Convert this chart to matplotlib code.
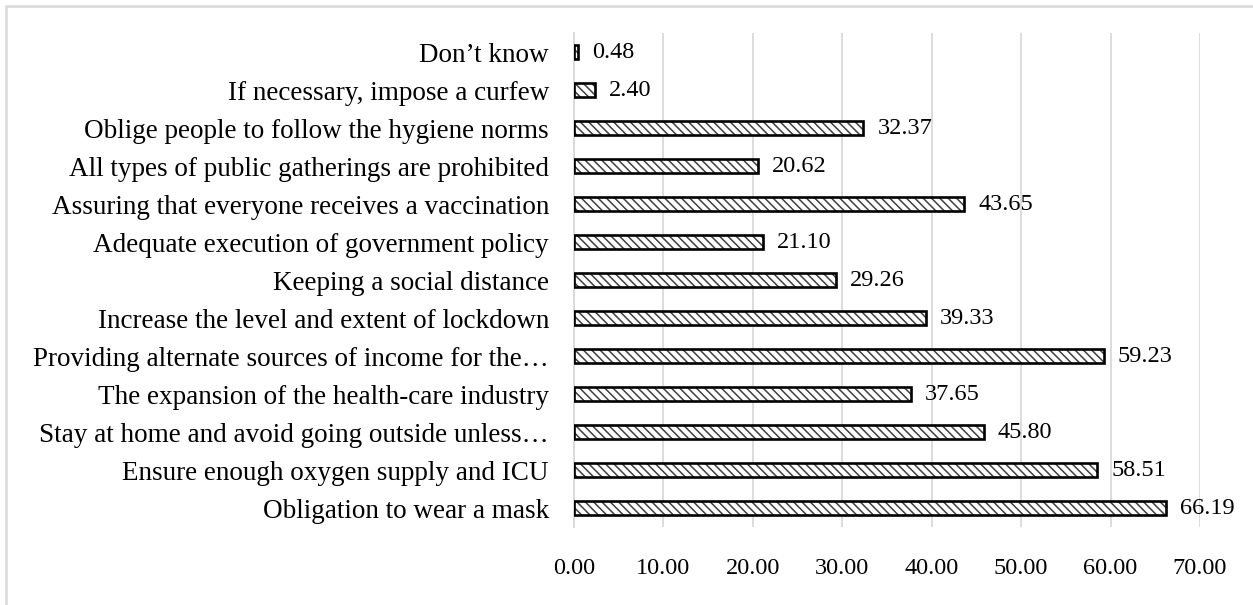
import numpy as np
import matplotlib
matplotlib.use("Agg")
import matplotlib.pyplot as plt
from matplotlib.patches import Rectangle

# ==========================================================
# DATA (top to bottom as shown)
# ==========================================================

categories = [
    "Don\u2019t know",
    "If necessary, impose a curfew",
    "Oblige people to follow the hygiene norms",
    "All types of public gatherings are prohibited",
    "Assuring that everyone receives a vaccination",
    "Adequate execution of government policy",
    "Keeping a social distance",
    "Increase the level and extent of lockdown",
    "Providing alternate sources of income for the\u2026",
    "The expansion of the health-care industry",
    "Stay at home and avoid going outside unless\u2026",
    "Ensure enough oxygen supply and ICU",
    "Obligation to wear a mask",
]

values = [0.48, 2.40, 32.37, 20.62, 43.65, 21.10, 29.26,
          39.33, 59.23, 37.65, 45.80, 58.51, 66.19]

xticks = [0, 10, 20, 30, 40, 50, 60, 70]

# ==========================================================
# FIGURE
# ==========================================================

plt.rcParams["font.family"] = ["Liberation Serif", "DejaVu Serif"]
plt.rcParams["hatch.linewidth"] = 1.1

W, H = 1253, 605
fig = plt.figure(figsize=(W / 100, H / 100), dpi=100)

left, right, top, bottom = 574, 1200, 33, 527
ax = fig.add_axes([left / W, 1 - bottom / H, (right - left) / W, (bottom - top) / H])

y = np.arange(len(categories))

# hatched fill
ax.barh(y, values, height=0.37, color="white", edgecolor="#404040",
        hatch="\\\\\\\\", linewidth=0, zorder=3)
# black outline
ax.barh(y, values, height=0.37, fill=False, edgecolor="black",
        linewidth=1.9, zorder=4)

for yi, v in zip(y, values):
    ax.annotate(f"{v:.2f}", (v, yi), xytext=(10, 0), textcoords="offset points",
                va="center", ha="left", fontsize=17.5, zorder=5)

ax.set_xlim(0, 70)
ax.set_ylim(len(categories) - 0.5, -0.5)
ax.set_xticks(xticks)
ax.set_xticklabels([f"{t:.2f}" for t in xticks], fontsize=17.5)
ax.set_yticks(y)
ax.set_yticklabels(categories, fontsize=19.5)

ax.tick_params(axis="x", length=0, pad=22)
ax.tick_params(axis="y", length=0, pad=18)

ax.grid(axis="x", color="#d9d9d9", linewidth=1.3, zorder=0)
ax.set_axisbelow(True)
for s in ["top", "right", "bottom"]:
    ax.spines[s].set_visible(False)
ax.spines["left"].set_color("#d9d9d9")
ax.spines["left"].set_linewidth(1.3)

# outer chart border (cut off at right and bottom)
fig.patches.append(Rectangle((6 / W, -0.1), 1.5, 1 - 6 / H + 0.1,
                             transform=fig.transFigure, fill=False,
                             edgecolor="#d9d9d9", linewidth=1.8))

fig.savefig("out.png", dpi=100)
